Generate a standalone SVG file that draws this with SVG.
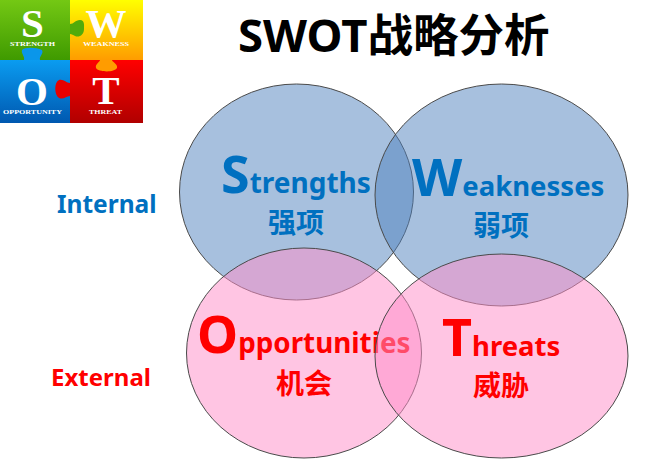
<svg xmlns="http://www.w3.org/2000/svg" width="650" height="463" viewBox="0 0 650 463">
<style>
text{font-family:"Noto Sans","Noto Sans CJK SC",sans-serif;font-weight:700}
.cjk{font-family:"Noto Sans CJK SC",sans-serif}
.b{fill:#4f81bd;fill-opacity:.5;stroke:#4a4a4a;stroke-width:1}
.p{fill:#ff90c9;fill-opacity:.52;stroke:#4a4a4a;stroke-width:1}
.blue{fill:#0070c0}.red{fill:#ff0000}
.lg{font-family:"Liberation Serif",serif;fill:#fff;text-anchor:middle}
.sm{font-size:7px}
</style>
<defs>
<linearGradient id="g" x1="0" y1="0" x2="0" y2="1"><stop offset="0" stop-color="#74c814"/><stop offset="1" stop-color="#3f9a00"/></linearGradient>
<linearGradient id="y" x1="0" y1="0" x2="0" y2="1"><stop offset="0" stop-color="#ffff00"/><stop offset="1" stop-color="#ff9c00"/></linearGradient>
<linearGradient id="c" x1="0" y1="0" x2="0" y2="1"><stop offset="0" stop-color="#0a9cf0"/><stop offset="1" stop-color="#0058b0"/></linearGradient>
<linearGradient id="r" x1="0" y1="0" x2="0" y2="1"><stop offset="0" stop-color="#ff0000"/><stop offset="1" stop-color="#b00000"/></linearGradient>
</defs>
<g id="logo">
<rect x="0" y="0" width="70" height="60" fill="url(#g)"/>
<rect x="70" y="0" width="73" height="60" fill="url(#y)"/>
<rect x="0" y="60" width="70" height="63" fill="url(#c)"/>
<rect x="70" y="60" width="73" height="63" fill="url(#r)"/>
<path d="M70 24C74 24 75 20 80 20C85 20 84 26 84 29C84 35 79 38 75 36C73 35 72 34 70 34Z" fill="#52ab0a"/>
<path d="M24 60C25 56 21 54 22 50C24 47 36 47 42 50C44 54 39 56 40 60Z" fill="#0a96ea"/>
<path d="M100 60C100 62 95 64 96 68C98 72 114 73 117 68C118 64 112 62 112 60Z" fill="#ff9c00"/>
<path d="M70 83C66 83 64 79 59 80C54 82 54 95 59 98C64 100 66 96 70 96Z" fill="#e80000"/>
<text class="lg" x="32.500" y="37" font-size="41">S</text>
<text class="lg" x="106" y="37" font-size="41">W</text>
<text class="lg" x="32" y="105" font-size="41">O</text>
<text class="lg" x="106" y="104" font-size="41">T</text>
<text class="lg sm" x="32.500" y="46" textLength="45" lengthAdjust="spacingAndGlyphs">STRENGTH</text>
<text class="lg sm" x="106" y="46" textLength="46" lengthAdjust="spacingAndGlyphs">WEAKNESS</text>
<text class="lg sm" x="32.500" y="114" textLength="59" lengthAdjust="spacingAndGlyphs">OPPORTUNITY</text>
<text class="lg sm" x="105.500" y="114" textLength="33" lengthAdjust="spacingAndGlyphs">THREAT</text>
</g>
<g id="title"><text x="238" y="52" font-size="45.500" fill="#000">SWOT<tspan class="cjk">战略分析</tspan></text></g>
<g id="side-labels">
<text class="blue" x="57" y="213" font-size="24.500">Internal</text>
<text class="red" x="51" y="386" font-size="24">External</text>
</g>
<g id="strengths"><ellipse class="b" cx="296.500" cy="192" rx="117" ry="108"/></g>
<g id="weaknesses"><ellipse class="b" cx="501.500" cy="195" rx="126.500" ry="111"/></g>
<g id="strengths-label">
<text class="blue" x="221" y="193" font-size="28"><tspan font-size="52">S</tspan>trengths</text>
<text class="blue cjk" x="268" y="233" font-size="28">强项</text>
</g>
<g id="weaknesses-label">
<text class="blue" x="412" y="196" font-size="27.500"><tspan font-size="52">W</tspan>eaknesses</text>
<text class="blue cjk" x="473" y="236" font-size="28">弱项</text>
</g>
<g id="opportunities"><ellipse class="p" cx="304" cy="353" rx="117.500" ry="105"/>
<text class="red" x="197" y="353" font-size="27.800"><tspan font-size="52">O</tspan>pportunities</text>
<text class="red cjk" x="276" y="394" font-size="28">机会</text>
</g>
<g id="threats"><ellipse class="p" cx="501.500" cy="356" rx="126.500" ry="102"/>
<text class="red" x="442" y="356" font-size="27.500"><tspan font-size="52">T</tspan>hreats</text>
<text class="red cjk" x="473" y="396" font-size="28">威胁</text>
</g>
</svg>
